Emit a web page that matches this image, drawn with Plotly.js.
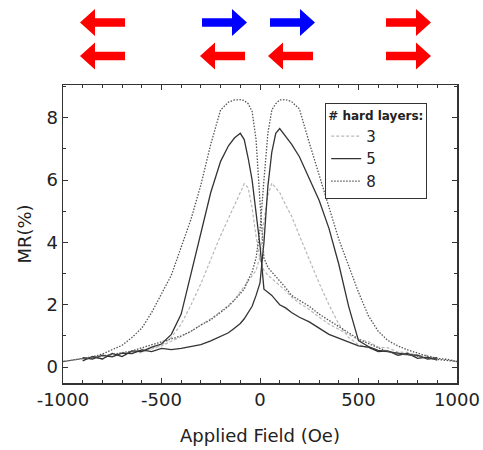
<!DOCTYPE html>
<html>
<head>
<meta charset="utf-8">
<script src="https://cdn.plot.ly/plotly-3.0.1.min.js"></script>
<style>html,body{margin:0;padding:0;background:#fff;}#chart{width:483px;height:450px;}</style>
</head>
<body>
<div id="chart"></div>
<script>
// Applied field grid (Oe)
var field = [-1000,-950,-900,-850,-800,-750,-700,-650,-600,-550,-500,-450,-400,-350,-300,-250,-200,-160,-130,-100,-80,-60,-40,-20,0,20,40,60,80,100,130,160,200,250,300,350,400,450,500,550,600,650,700,750,800,850,900,950,1000];

// 3 hard layers
var mr3Neg = [null,null,0.22,0.33,0.26,0.41,0.34,0.48,0.46,0.62,0.7,0.95,1.38,2.0,2.68,3.45,4.22,4.8,5.2,5.6,5.88,5.75,5.1,4.2,3.45,3.1,2.95,2.85,2.75,2.62,2.45,2.25,2.05,1.85,1.6,1.38,1.2,1.05,0.88,0.82,0.64,0.62,0.48,0.47,0.36,0.38,0.26,null,null];
var mr3Pos = [null,null,0.28,0.31,0.37,0.34,0.46,0.45,0.57,0.58,0.68,0.82,0.98,1.15,1.35,1.55,1.78,1.98,2.15,2.42,2.6,2.75,2.95,3.1,3.55,4.7,5.5,5.9,5.75,5.6,5.2,4.85,4.22,3.45,2.7,2.0,1.38,0.95,0.72,0.62,0.52,0.49,0.42,0.39,0.33,0.3,0.25,null,null];

// 5 hard layers
var mr5Neg = [null,null,0.2,0.34,0.26,0.44,0.34,0.52,0.5,0.64,0.74,1.05,1.7,3.0,4.3,5.6,6.6,7.1,7.35,7.5,7.3,6.7,6.0,5.0,3.9,2.5,2.4,2.3,2.15,2.0,1.9,1.75,1.6,1.45,1.25,1.05,0.92,0.8,0.68,0.64,0.5,0.52,0.38,0.44,0.28,0.32,0.22,null,null];
var mr5Pos = [null,null,0.3,0.26,0.38,0.33,0.45,0.43,0.55,0.5,0.6,0.56,0.6,0.66,0.72,0.84,0.98,1.1,1.25,1.4,1.55,1.75,1.95,2.3,2.7,4.0,5.8,6.9,7.5,7.65,7.4,7.15,6.75,6.05,5.35,4.45,3.3,1.95,0.85,0.66,0.54,0.5,0.45,0.4,0.38,0.26,0.3,null,null];

// 8 hard layers
var mr8Neg = [0.18,0.24,0.28,0.33,0.42,0.55,0.7,0.95,1.25,1.75,2.35,2.95,3.85,4.75,5.85,7.15,8.25,8.5,8.57,8.58,8.55,8.45,8.2,7.3,5.3,3.5,3.2,3.05,2.9,2.75,2.55,2.3,2.15,1.95,1.7,1.5,1.3,1.1,0.9,0.75,0.62,0.5,0.42,0.4,0.35,0.28,0.25,0.22,0.18];
var mr8Pos = [0.18,0.22,0.27,0.3,0.35,0.4,0.45,0.52,0.62,0.72,0.82,0.92,1.0,1.15,1.35,1.52,1.75,1.95,2.15,2.35,2.5,2.8,3.05,3.5,4.4,6.0,7.5,8.25,8.45,8.57,8.58,8.52,8.28,7.2,6.15,5.1,4.1,3.25,2.4,1.65,1.15,0.85,0.68,0.55,0.45,0.35,0.28,0.25,0.18];

var seriesNames = ['3','5','8'];
var xTicks = [-1000,-500,0,500,1000];
var yTicks = [0,2,4,6,8];

function sweep(neg, pos) {
  // down sweep (+H to -H) then up sweep (-H to +H)
  var x = field.slice().reverse().concat(field);
  var y = neg.slice().reverse().concat(pos);
  return {x: x, y: y};
}

var s3 = sweep(mr3Neg, mr3Pos), s5 = sweep(mr5Neg, mr5Pos), s8 = sweep(mr8Neg, mr8Pos);
var traces = [
  {x: s3.x, y: s3.y, name: seriesNames[0], mode: 'lines', line: {color: '#b8b8b8', width: 1.2, dash: '3px,2px'}},
  {x: s5.x, y: s5.y, name: seriesNames[1], mode: 'lines', line: {color: '#333333', width: 1.3}},
  {x: s8.x, y: s8.y, name: seriesNames[2], mode: 'lines', line: {color: '#555555', width: 1.3, dash: '1.5px,1.5px'}}
];

// arrow decoration (pixel geometry converted to paper coords)
var L = 63, R = 457, T = 85, B = 383;
function px(xp) { return (xp - L) / (R - L); }
function py(yp) { return (B - yp) / (B - T); }
function arrow(x0, cy, dir, color) {
  var pts;
  if (dir > 0) {
    pts = [[x0, cy-4.2],[x0+30, cy-4.2],[x0+30, cy-13.5],[x0+45, cy],[x0+30, cy+13.5],[x0+30, cy+4.2],[x0, cy+4.2]];
  } else {
    pts = [[x0+45, cy-4.2],[x0+15, cy-4.2],[x0+15, cy-13.5],[x0, cy],[x0+15, cy+13.5],[x0+15, cy+4.2],[x0+45, cy+4.2]];
  }
  var d = pts.map(function(p, i){ return (i ? 'L' : 'M') + px(p[0]).toFixed(4) + ',' + py(p[1]).toFixed(4); }).join(' ') + ' Z';
  return {type: 'path', xref: 'paper', yref: 'paper', path: d, fillcolor: color, line: {width: 0}, layer: 'above'};
}
var RED = '#ff0000', BLUE = '#0000ff';
var shapes = [
  arrow(80, 22.5, -1, RED), arrow(80, 56, -1, RED),
  arrow(202, 22.5, 1, BLUE), arrow(200, 56, -1, RED),
  arrow(270, 22.5, 1, BLUE), arrow(268, 56, -1, RED),
  arrow(386, 22.5, 1, RED), arrow(386, 56, 1, RED)
];

var FONT = 'DejaVu Sans, Arial, sans-serif';
var layout = {
  width: 483, height: 450,
  margin: {l: L, r: 483 - R, t: T, b: 450 - B},
  paper_bgcolor: '#fff', plot_bgcolor: '#fff',
  showlegend: true,
  font: {family: FONT, color: '#222'},
  xaxis: {
    range: [-1000, 1000], tickvals: xTicks, ticktext: xTicks.map(String),
    ticks: 'inside', ticklen: 5, tickcolor: '#333', showgrid: false, zeroline: false,
    showline: true, linecolor: '#333', linewidth: 1.5, mirror: 'ticks',
    minor: {dtick: 100, tick0: 0, ticks: 'inside', ticklen: 3, tickcolor: '#333', showgrid: false},
    tickfont: {size: 18, family: FONT, color: '#222'},
    title: {text: 'Applied Field (Oe)', font: {size: 18, family: FONT, color: '#222'}, standoff: 20}
  },
  yaxis: {
    range: [-0.51, 9.05], tickvals: yTicks, ticktext: yTicks.map(String),
    ticks: 'inside', ticklen: 5, tickcolor: '#333', showgrid: false, zeroline: false,
    showline: true, linecolor: '#333', linewidth: 1.5, mirror: 'ticks',
    minor: {dtick: 1, tick0: 0, ticks: 'inside', ticklen: 3, tickcolor: '#333', showgrid: false},
    tickfont: {size: 18, family: FONT, color: '#222'},
    title: {text: 'MR(%)', font: {size: 18, family: FONT, color: '#222'}, standoff: 10}
  },
  legend: {
    x: px(325), y: py(103), xanchor: 'left', yanchor: 'top',
    bordercolor: '#333', borderwidth: 1.2, bgcolor: '#fff',
    font: {size: 15, family: FONT, color: '#222'},
    title: {text: '<b># hard layers:</b>', font: {size: 12, family: FONT, color: '#222'}},
    tracegroupgap: 0
  },
  shapes: shapes
};

Plotly.newPlot('chart', traces, layout, {displayModeBar: false, staticPlot: true});
</script>
</body>
</html>
